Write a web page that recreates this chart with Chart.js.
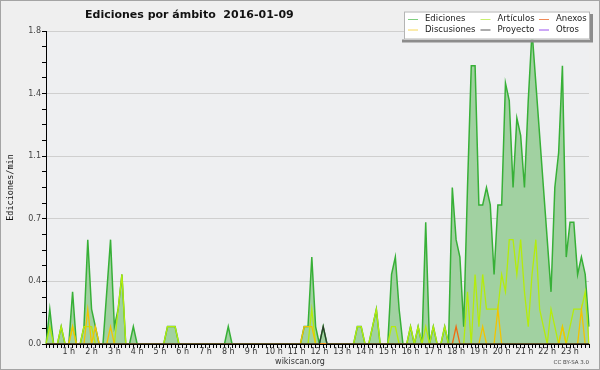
<!DOCTYPE html>
<html>
<head>
<meta charset="utf-8">
<script src="https://cdn.jsdelivr.net/npm/chart.js@4.4.0/dist/chart.umd.min.js"></script>
<style>
  html, body { margin: 0; padding: 0; background: #efefef; }
  #frame { width: 600px; height: 370px; box-sizing: border-box; border: 1px solid #a4a4a4; background: #efefef; }
  canvas { display: block; }
</style>
</head>
<body>
<div id="frame"><canvas id="chart" width="598" height="368"></canvas></div>
<script>
const title = 'Ediciones por ámbito  2016-01-09';
const yTitle = 'Ediciones/min';

// one point every 10 minutes, 0:00 .. 23:50
const times = [];
for (let h = 0; h < 24; h++) for (let m = 0; m < 60; m += 10) times.push(h + ':' + String(m).padStart(2, '0'));

const hourLabels = ['1 h', '2 h', '3 h', '4 h', '5 h', '6 h', '7 h', '8 h', '9 h', '10 h', '11 h', '12 h',
    '13 h', '14 h', '15 h', '16 h', '17 h', '18 h', '19 h', '20 h', '21 h', '22 h', '23 h'];

const yMajor = [0, 0.36, 0.72, 1.08, 1.44, 1.8];
const yLabels = ['0.0', '0.4', '0.7', '1.1', '1.4', '1.8'];

const ediciones = [
    0, 0.2, 0, 0, 0.1, 0, 0, 0.3, 0, 0, 0.1, 0.6, 0.2, 0.1, 0, 0, 0.3, 0.6, 0.1, 0.2, 0.4, 0, 0, 0.1,
    0, 0, 0, 0, 0, 0, 0, 0, 0.1, 0.1, 0.1, 0, 0, 0, 0, 0, 0, 0, 0, 0, 0, 0, 0, 0,
    0.1, 0, 0, 0, 0, 0, 0, 0, 0, 0, 0, 0, 0, 0, 0, 0, 0, 0, 0, 0, 0.1, 0.1, 0.5, 0.1,
    0, 0.1, 0, 0, 0, 0, 0, 0, 0, 0, 0.1, 0.1, 0, 0, 0.1, 0.2, 0, 0, 0, 0.4, 0.5, 0.2, 0, 0,
    0.1, 0, 0.1, 0, 0.7, 0, 0.1, 0, 0, 0.1, 0, 0.9, 0.6, 0.5, 0.1, 0.9, 1.6, 1.6, 0.8, 0.8, 0.9, 0.8, 0.4, 0.8,
    0.8, 1.5, 1.4, 0.9, 1.3, 1.2, 0.9, 1.4, 1.8, 1.5, 1.2, 0.9, 0.6, 0.3, 0.9, 1.1, 1.6, 0.5, 0.7, 0.7, 0.4, 0.5, 0.4, 0.1
];
const articulos = [
    0, 0.1, 0, 0, 0.1, 0, 0, 0.1, 0, 0, 0.1, 0.1, 0.1, 0, 0, 0, 0, 0, 0, 0.2, 0.4, 0, 0, 0,
    0, 0, 0, 0, 0, 0, 0, 0, 0.1, 0.1, 0.1, 0, 0, 0, 0, 0, 0, 0, 0, 0, 0, 0, 0, 0,
    0, 0, 0, 0, 0, 0, 0, 0, 0, 0, 0, 0, 0, 0, 0, 0, 0, 0, 0, 0, 0, 0, 0.2, 0,
    0, 0, 0, 0, 0, 0, 0, 0, 0, 0, 0.1, 0.1, 0, 0, 0.1, 0.2, 0, 0, 0, 0.1, 0.1, 0, 0, 0,
    0.1, 0, 0.1, 0, 0.1, 0, 0.1, 0, 0, 0.1, 0, 0, 0, 0, 0, 0.3, 0, 0.4, 0.1, 0.4, 0.2, 0.2, 0.2, 0.2,
    0.4, 0.3, 0.6, 0.6, 0.4, 0.6, 0.3, 0.1, 0.4, 0.6, 0.2, 0.1, 0, 0.2, 0.1, 0, 0.1, 0, 0.1, 0.2, 0.2, 0.2, 0.3, 0
];
const anexos = [
    0, 0, 0, 0, 0, 0, 0, 0, 0, 0, 0, 0, 0, 0, 0, 0, 0, 0, 0, 0, 0, 0, 0, 0,
    0, 0, 0, 0, 0, 0, 0, 0, 0, 0, 0, 0, 0, 0, 0, 0, 0, 0, 0, 0, 0, 0, 0, 0,
    0, 0, 0, 0, 0, 0, 0, 0, 0, 0, 0, 0, 0, 0, 0, 0, 0, 0, 0, 0, 0, 0, 0, 0,
    0, 0, 0, 0, 0, 0, 0, 0, 0, 0, 0, 0, 0, 0, 0, 0, 0, 0, 0, 0, 0, 0, 0, 0,
    0, 0, 0, 0, 0, 0, 0, 0, 0, 0, 0, 0, 0.1, 0, 0, 0, 0, 0, 0, 0, 0, 0, 0, 0,
    0, 0, 0, 0, 0, 0, 0, 0, 0, 0, 0, 0, 0, 0, 0, 0, 0, 0, 0, 0, 0, 0, 0, 0
];
const discusiones = [
    0, 0, 0, 0, 0, 0, 0, 0.1, 0, 0, 0, 0.2, 0, 0.1, 0, 0, 0, 0.1, 0, 0, 0, 0, 0, 0,
    0, 0, 0, 0, 0, 0, 0, 0, 0, 0, 0, 0, 0, 0, 0, 0, 0, 0, 0, 0, 0, 0, 0, 0,
    0, 0, 0, 0, 0, 0, 0, 0, 0, 0, 0, 0, 0, 0, 0, 0, 0, 0, 0, 0, 0.1, 0.1, 0.1, 0,
    0, 0, 0, 0, 0, 0, 0, 0, 0, 0, 0, 0, 0, 0, 0, 0, 0, 0, 0, 0, 0, 0, 0, 0,
    0, 0, 0, 0, 0, 0, 0, 0, 0, 0, 0, 0, 0, 0, 0, 0, 0, 0, 0, 0.1, 0, 0, 0, 0.2,
    0, 0, 0, 0, 0, 0, 0, 0, 0, 0, 0, 0, 0, 0, 0, 0, 0.1, 0, 0, 0, 0, 0.2, 0, 0
];
const proyecto = [
    0, 0, 0, 0, 0, 0, 0, 0, 0, 0, 0, 0, 0, 0, 0, 0, 0, 0, 0, 0, 0, 0, 0, 0,
    0, 0, 0, 0, 0, 0, 0, 0, 0, 0, 0, 0, 0, 0, 0, 0, 0, 0, 0, 0, 0, 0, 0, 0,
    0, 0, 0, 0, 0, 0, 0, 0, 0, 0, 0, 0, 0, 0, 0, 0, 0, 0, 0, 0, 0, 0, 0, 0,
    0, 0.1, 0, 0, 0, 0, 0, 0, 0, 0, 0, 0, 0, 0, 0, 0, 0, 0, 0, 0, 0, 0, 0, 0,
    0, 0, 0, 0, 0, 0, 0, 0, 0, 0, 0, 0, 0, 0, 0, 0, 0, 0, 0, 0, 0, 0, 0, 0,
    0, 0, 0, 0, 0, 0, 0, 0, 0, 0, 0, 0, 0, 0, 0, 0, 0, 0, 0, 0, 0, 0, 0, 0
];
const otros = [
    0, 0, 0, 0, 0, 0, 0, 0, 0, 0, 0, 0, 0, 0, 0, 0, 0, 0, 0, 0, 0, 0, 0, 0,
    0, 0, 0, 0, 0, 0, 0, 0, 0, 0, 0, 0, 0, 0, 0, 0, 0, 0, 0, 0, 0, 0, 0, 0,
    0, 0, 0, 0, 0, 0, 0, 0, 0, 0, 0, 0, 0, 0, 0, 0, 0, 0, 0, 0, 0, 0, 0, 0,
    0, 0, 0, 0, 0, 0, 0, 0, 0, 0, 0, 0, 0, 0, 0, 0, 0, 0, 0, 0, 0, 0, 0, 0,
    0, 0, 0, 0, 0, 0, 0, 0, 0, 0, 0, 0, 0, 0, 0, 0, 0, 0, 0, 0, 0, 0, 0, 0,
    0, 0, 0, 0, 0, 0, 0, 0, 0, 0, 0, 0, 0, 0, 0, 0, 0, 0, 0, 0, 0, 0, 0, 0
];

// major ticks with 3 minor ticks in between
const yTicks = [];
yMajor.forEach((v, k) => {
    yTicks.push(v);
    if (k < yMajor.length - 1) {
        for (let m = 1; m < 4; m++) yTicks.push(v + (yMajor[k + 1] - v) * m / 4);
    }
});

const series = (label, data, color, legendColor, order) => ({
    label, data, order, legendColor,
    borderColor: color, borderWidth: 1.3, pointRadius: 0, tension: 0, fill: false
});

// title, legend box, footer and plot background
const decor = {
    id: 'decor',
    beforeDraw(chart) {
        const { ctx, chartArea: a } = chart;
        ctx.save();
        ctx.fillStyle = '#eeeff1';
        ctx.fillRect(a.left, a.top, a.right - a.left, a.bottom - a.top);
        ctx.restore();
    },
    afterDraw(chart) {
        const ctx = chart.ctx;
        ctx.save();

        ctx.fillStyle = '#111';
        ctx.font = 'bold 11px "DejaVu Sans"';
        ctx.textAlign = 'left';
        ctx.textBaseline = 'alphabetic';
        ctx.fillText(title, 84, 17);

        const L = { x: 403, y: 10.5, w: 186, h: 28 };
        ctx.fillStyle = '#8c8c8c';
        ctx.fillRect(L.x - 2, L.y + L.h, L.w + 5, 3);
        ctx.fillRect(L.x + L.w, L.y + 2.5, 3, L.h);
        ctx.fillStyle = '#fff';
        ctx.fillRect(L.x, L.y, L.w, L.h);
        ctx.strokeStyle = '#b4b4b4';
        ctx.lineWidth = 1;
        ctx.strokeRect(L.x + 0.5, L.y + 0.5, L.w - 1, L.h - 1);

        const cols = [407, 479.5, 538];
        const rows = [18, 28.5];
        ctx.font = '8.5px "DejaVu Sans"';
        ctx.textBaseline = 'middle';
        chart.data.datasets.forEach((ds, k) => {
            const x = cols[k % 3], y = rows[Math.floor(k / 3)];
            ctx.strokeStyle = ds.legendColor;
            ctx.beginPath();
            ctx.moveTo(x, y + 0.5);
            ctx.lineTo(x + 10, y + 0.5);
            ctx.stroke();
            ctx.fillStyle = '#222';
            ctx.fillText(ds.label, x + 17, y);
        });

        ctx.fillStyle = '#333';
        ctx.font = '8px "DejaVu Sans"';
        ctx.textAlign = 'center';
        ctx.fillText('wikiscan.org', 299, 360.5);
        ctx.font = '5.5px "DejaVu Sans"';
        ctx.textAlign = 'right';
        ctx.fillStyle = '#444';
        ctx.fillText('CC BY-SA 3.0', 588, 362);
        ctx.restore();
    }
};

Chart.defaults.font.family = '"DejaVu Sans", sans-serif';

new Chart(document.getElementById('chart'), {
    type: 'line',
    data: {
        labels: times,
        datasets: [
            Object.assign(series('Ediciones', ediciones, '#37b037', '#80cf80', 6),
                { fill: 'origin', backgroundColor: '#a1d1a1', borderWidth: 1.5 }),
            series('Artículos', articulos, '#b4ec0c', '#c8f070', 4),
            series('Anexos', anexos, '#f06a10', '#f08a58', 2),
            series('Discusiones', discusiones, '#f2c400', '#f8d858', 3),
            series('Proyecto', proyecto, '#2c3c2c', '#585858', 1),
            series('Otros', otros, '#9a50ee', '#9a50ee', 7)
        ]
    },
    options: {
        responsive: false,
        animation: false,
        events: [],
        layout: { padding: { top: 30, right: 10, left: 0, bottom: 0 } },
        plugins: { legend: { display: false }, tooltip: { enabled: false } },
        scales: {
            x: {
                z: 1,
                offset: false,
                grid: { drawOnChartArea: false, tickLength: 4, tickColor: '#000' },
                border: { color: '#000', width: 1 },
                ticks: {
                    autoSkip: false, maxRotation: 0, minRotation: 0, padding: -1,
                    color: '#333', font: { size: 8 },
                    callback: (v, i) => (i % 6 === 0 && i > 0) ? hourLabels[i / 6 - 1] : ''
                },
                afterFit: s => { s.height = 25; }
            },
            y: {
                min: 0,
                max: 1.8,
                afterBuildTicks: s => { s.ticks = yTicks.map(v => ({ value: v })); },
                ticks: {
                    color: '#444', font: { size: 8 }, padding: 1,
                    callback: (v, i) => i % 4 === 0 ? yLabels[i / 4] : ''
                },
                grid: {
                    color: c => c.index % 4 === 0 ? '#cfcfcf' : 'rgba(0,0,0,0)',
                    tickColor: '#000',
                    tickLength: 4
                },
                border: { color: '#000', width: 1 },
                title: {
                    display: true, text: yTitle, color: '#111',
                    font: { family: '"DejaVu Sans Mono"', size: 8.5 },
                    padding: { top: 5, bottom: 0 }
                },
                afterFit: s => { s.width = 45; }
            }
        }
    },
    plugins: [decor]
});
</script>
</body>
</html>
